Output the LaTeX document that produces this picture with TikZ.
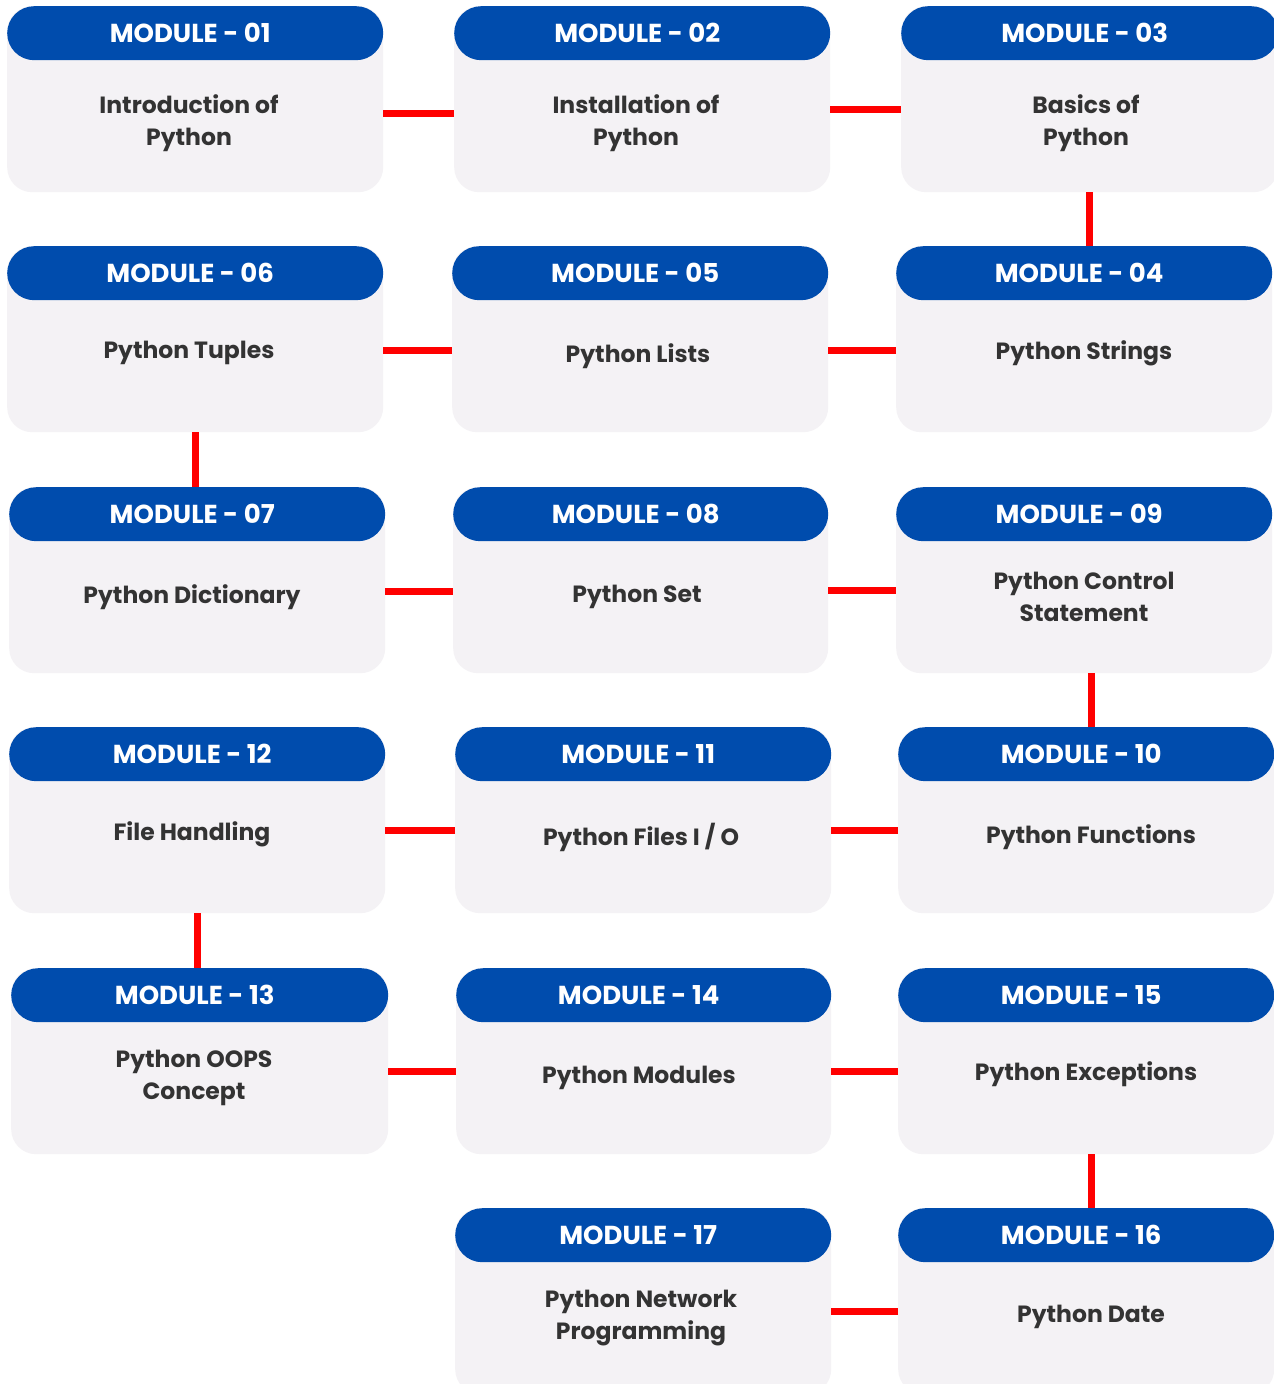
\documentclass[tikz,border=0pt]{standalone}
\usepackage{fontspec}
\setmainfont{Poppins}
\definecolor{hdrblue}{HTML}{004CAD}
\definecolor{cardgray}{HTML}{F4F2F5}
\definecolor{txtdark}{HTML}{333333}
\definecolor{connred}{HTML}{FF0000}
\tikzset{
  card/.style={fill=cardgray, rounded corners=25pt, inner sep=0pt, draw=none},
  hdrpill/.style={fill=hdrblue, rounded corners=27pt, inner sep=0pt, minimum height=54pt},
  hdrtxt/.style={text=white, font=\fontsize{26}{30}\selectfont\bfseries},
  bodytxt/.style={text=txtdark, align=center, font=\fontsize{23.5}{32}\selectfont\bfseries},
  conn/.style={draw=connred, line width=7pt}
}
\newcommand\modcard[8]{%
  \node[card, minimum width={#3pt-#2pt}, minimum height=186pt, anchor=north west] (#1) at (#2,#4) {};
  \node[hdrpill, minimum width={#3pt-#2pt}, anchor=north] (#1h) at (#1.north) {};
  \node[hdrtxt] (#1l) at ([xshift=-5pt]#1h.center) {MODULE - #5};
  \node[bodytxt] (#1t) at (#6,#7+3) {#8};
}
\begin{document}
\begin{tikzpicture}[x=1pt,y=-1pt]
\useasboundingbox (0,0) rectangle (1274,1384);
\fill[white] (0,0) rectangle (1274,1384);
\clip (0,0) rectangle (1274,1384);
% row 1
\modcard{m01}{7}{383}{6}{01}{189}{120}{Introduction of\\Python}
\modcard{m02}{454}{830}{6}{02}{636}{120}{Installation of\\Python}
\modcard{m03}{901}{1278}{6}{03}{1086}{120}{Basics of\\Python}
% row 2
\modcard{m06}{7}{383}{246}{06}{189}{350}{Python Tuples}
\modcard{m05}{452}{828}{246}{05}{638}{353}{Python Lists}
\modcard{m04}{896}{1272}{246}{04}{1084}{350}{Python Strings}
% row 3
\modcard{m07}{9}{385}{487}{07}{192}{594}{Python Dictionary}
\modcard{m08}{453}{828}{487}{08}{637}{594}{Python Set}
\modcard{m09}{896}{1272}{487}{09}{1084}{594}{Python Control\\Statement}
% row 4
\modcard{m12}{9}{385}{727}{12}{192}{831}{File Handling}
\modcard{m11}{455}{831}{727}{11}{641}{834}{Python Files I / O}
\modcard{m10}{898}{1274}{727}{10}{1091}{834}{Python Functions}
% row 5
\modcard{m13}{11}{388}{968}{13}{194}{1075}{Python OOPS\\Concept}
\modcard{m14}{456}{831}{968}{14}{639}{1075}{Python Modules}
\modcard{m15}{898}{1274}{968}{15}{1086}{1071}{Python Exceptions}
% row 6
\modcard{m17}{455}{831}{1208}{17}{641}{1315}{Python Network\\Programming}
\modcard{m16}{898}{1274}{1208}{16}{1091}{1314}{Python Date}
% connectors
\draw[conn] (m01.east |- 0,113) -- (m02.west |- 0,113);
\draw[conn] (m02.east |- 0,109) -- (m03.west |- 0,109);
\draw[conn] (m03.south -| 1089,0) -- (m04h.north -| 1089,0);
\draw[conn] (m04.west |- 0,350) -- (m05.east |- 0,350);
\draw[conn] (m05.west |- 0,350) -- (m06.east |- 0,350);
\draw[conn] (m06.south -| 195,0) -- (m07h.north -| 195,0);
\draw[conn] (m07.east |- 0,591) -- (m08.west |- 0,591);
\draw[conn] (m08.east |- 0,590) -- (m09.west |- 0,590);
\draw[conn] (m09.south -| 1091,0) -- (m10h.north -| 1091,0);
\draw[conn] (m10.west |- 0,830) -- (m11.east |- 0,830);
\draw[conn] (m11.west |- 0,830) -- (m12.east |- 0,830);
\draw[conn] (m12.south -| 197,0) -- (m13h.north -| 197,0);
\draw[conn] (m13.east |- 0,1071) -- (m14.west |- 0,1071);
\draw[conn] (m14.east |- 0,1071) -- (m15.west |- 0,1071);
\draw[conn] (m15.south -| 1091,0) -- (m16h.north -| 1091,0);
\draw[conn] (m16.west |- 0,1311) -- (m17.east |- 0,1311);
\end{tikzpicture}
\end{document}
